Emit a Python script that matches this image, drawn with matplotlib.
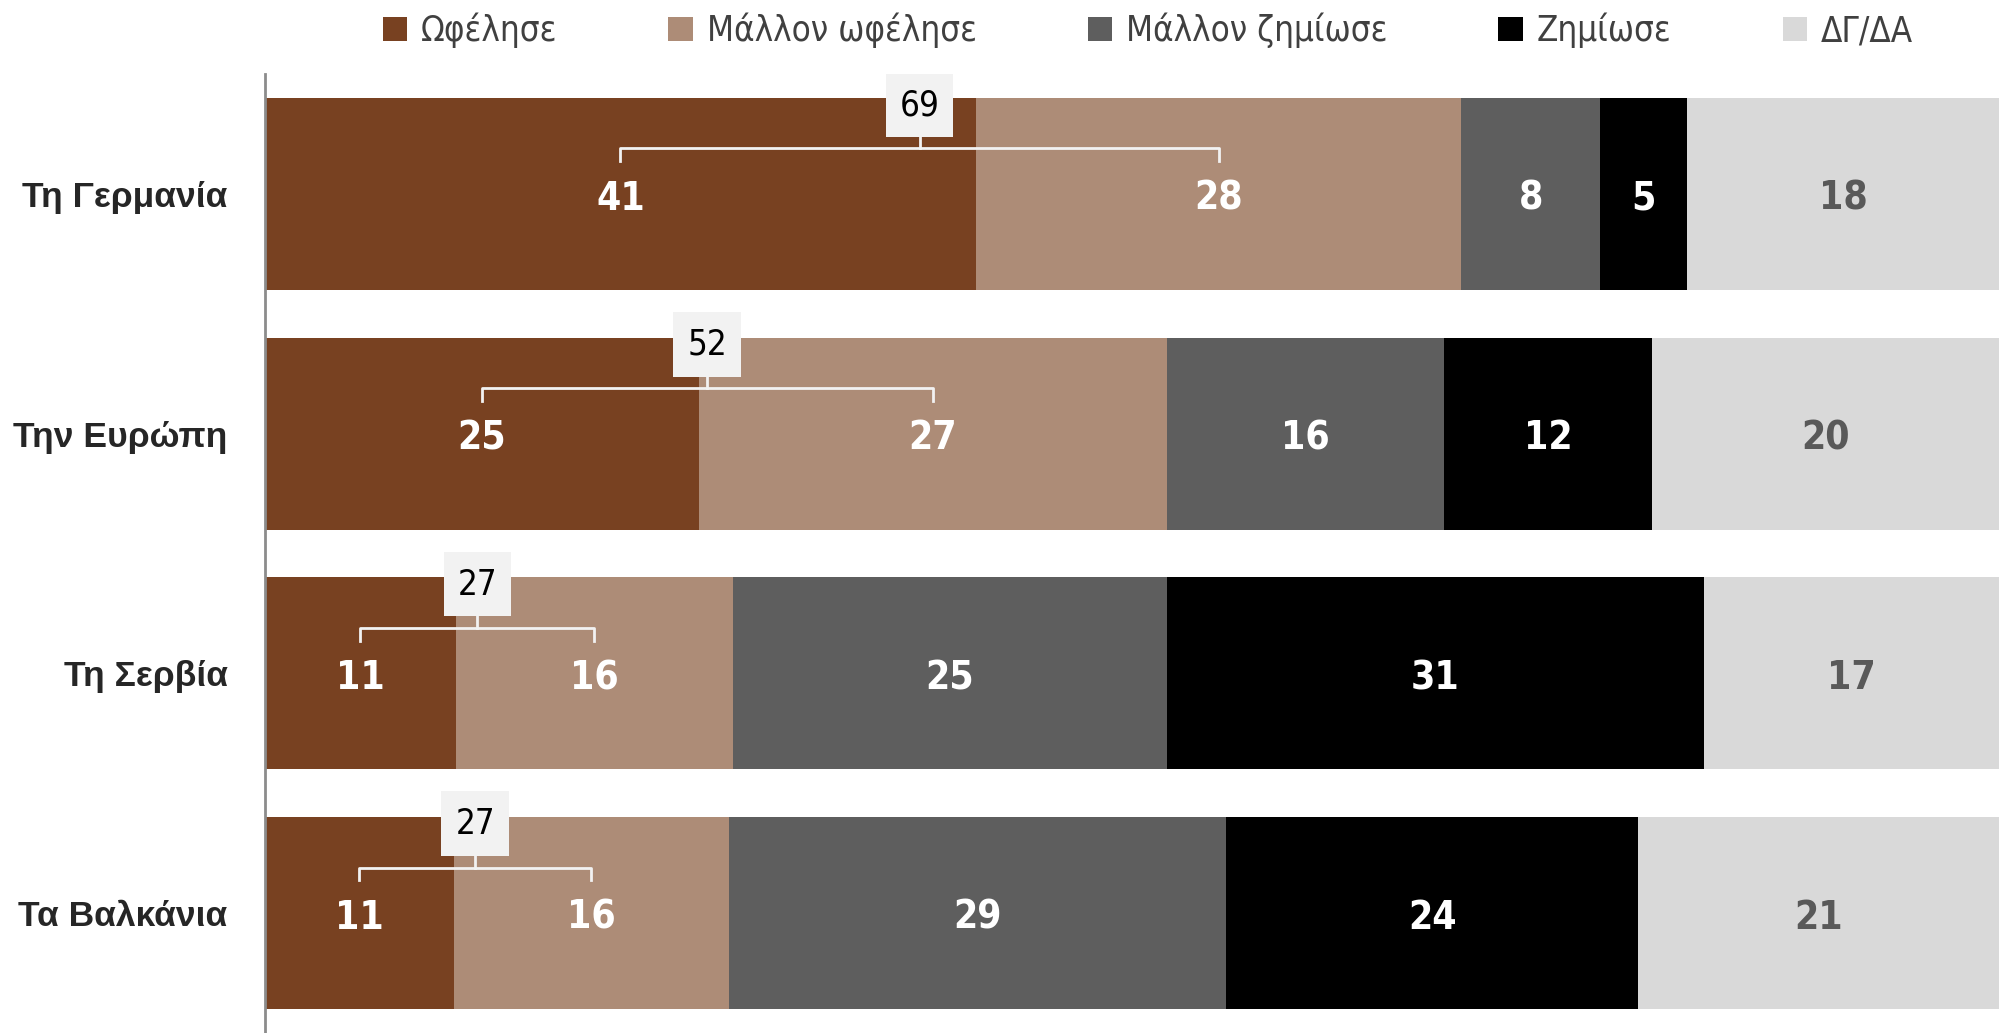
import numpy as np
import matplotlib
matplotlib.use("Agg")
import matplotlib.pyplot as plt
from matplotlib import font_manager
from matplotlib.ft2font import FT2Font
from matplotlib.patches import Rectangle

# data
categories = ["Τη Γερμανία", "Την Ευρώπη", "Τη Σερβία", "Τα Βαλκάνια"]
series_names = ["Ωφέλησε", "Μάλλον ωφέλησε", "Μάλλον ζημίωσε", "Ζημίωσε", "ΔΓ/ΔΑ"]
benefited = [41, 25, 11, 11]
rather_benefited = [28, 27, 16, 16]
rather_harmed = [8, 16, 25, 29]
harmed = [5, 12, 31, 24]
dk_na = [18, 20, 17, 21]
# totals shown in the boxes (Ωφέλησε + Μάλλον ωφέλησε)
positive_totals = [69, 52, 27, 27]

colors = ["#784121", "#AD8C77", "#5E5E5E", "#000000", "#D9D9D9"]
label_colors = ["white", "white", "white", "white", "#595959"]


def has_greek(path):
    try:
        return FT2Font(path).get_char_index(ord("Ω")) != 0
    except Exception:
        return False


def weight_num(w):
    if isinstance(w, int):
        return w
    return font_manager.weight_dict.get(w, 400)


# narrow fonts, the original uses Arial Narrow style text
narrow_fonts = [f for f in font_manager.fontManager.ttflist
                if "Narrow" in f.name or "Condensed" in f.name
                or f.stretch in ("condensed", "semi-condensed", "extra-condensed")]
narrow_fonts = [f for f in narrow_fonts if f.style == "normal"]

bold_narrow = sorted([f for f in narrow_fonts if weight_num(f.weight) >= 600],
                     key=lambda f: (not has_greek(f.fname), abs(weight_num(f.weight) - 700)))
reg_narrow = sorted([f for f in narrow_fonts if 350 <= weight_num(f.weight) < 600 and has_greek(f.fname)],
                    key=lambda f: abs(weight_num(f.weight) - 400))
reg_narrow_any = sorted([f for f in narrow_fonts if 350 <= weight_num(f.weight) < 600],
                        key=lambda f: abs(weight_num(f.weight) - 400))


def fp(candidates, size, default_family, default_weight="normal"):
    if candidates:
        return font_manager.FontProperties(fname=candidates[0].fname, size=size)
    return font_manager.FontProperties(family=default_family, weight=default_weight, size=size)


num_font = fp(bold_narrow, 28, "Liberation Sans", "bold") if bold_narrow else \
    font_manager.FontProperties(family="Liberation Sans", weight="bold", size=24)
box_font = fp(reg_narrow_any, 25, "Liberation Sans")
legend_font = fp(reg_narrow, 25, "Liberation Sans")

values = np.array([benefited, rather_benefited, rather_harmed, harmed, dk_na], dtype=float)
# chart is 100% stacked
shares = values / values.sum(axis=0) * 100

fig = plt.figure(figsize=(20.1, 10.33), dpi=100)
ax = fig.add_axes([265 / 2010, 0, (1999 - 265) / 2010, 1 - 74 / 1033])

y = np.arange(len(categories))

left = np.zeros(len(categories))
for i, name in enumerate(series_names):
    ax.barh(y, shares[i], left=left, height=0.8, color=colors[i], label=name)
    for j in range(len(categories)):
        ax.text(left[j] + shares[i][j] / 2, y[j] + 0.02, f"{values[i][j]:.0f}",
                ha="center", va="center", color=label_colors[i], fontproperties=num_font)
    left += shares[i]

# brackets with totals over the first two segments
for j in range(len(categories)):
    x1 = shares[0][j] / 2
    x2 = shares[0][j] + shares[1][j] / 2
    xm = (x1 + x2) / 2
    yb = y[j] - 0.19
    ye = y[j] - 0.137
    ax.plot([x1, x1, x2, x2], [ye, yb, yb, ye], color="#F2F2F2", lw=2, zorder=3)
    ax.plot([xm, xm], [yb, yb - 0.05], color="#F2F2F2", lw=2, zorder=3)
    ax.add_patch(Rectangle((xm - 1.95, y[j] - 0.373 - 0.135), 3.9, 0.27,
                           facecolor="#F2F2F2", edgecolor="none", zorder=4))
    ax.text(xm, y[j] - 0.37, str(positive_totals[j]), ha="center", va="center",
            color="black", zorder=5, fontproperties=box_font)

ax.set_xlim(0, 100)
ax.set_ylim(len(categories) - 0.5, -0.5)
ax.set_yticks(y)
ax.set_yticklabels(categories, fontsize=25.5, fontweight="bold", color="#262626",
                   family="Liberation Sans")
ax.tick_params(axis="y", length=0, pad=27)
ax.set_xticks([])
for side in ["top", "right", "bottom"]:
    ax.spines[side].set_visible(False)
ax.spines["left"].set_color("#8C8C8C")
ax.spines["left"].set_linewidth(2)

fig.legend(loc="upper center", bbox_to_anchor=(0.571, 1.018), ncol=5, frameon=False,
           prop=legend_font, labelcolor="#404040",
           handlelength=0.7, handleheight=0.7, handletextpad=0.4, columnspacing=3.2)

fig.savefig("out.png", dpi=100)
